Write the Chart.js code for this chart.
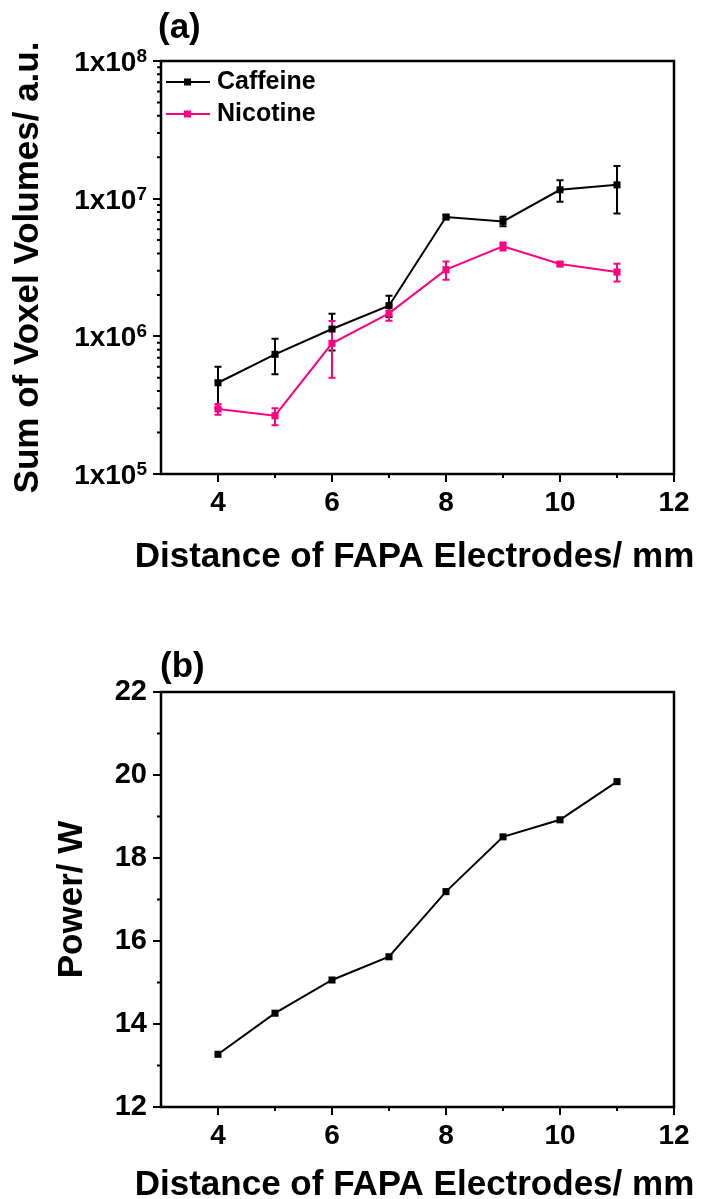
<!DOCTYPE html>
<html>
<head>
<meta charset="utf-8">
<script src="https://cdn.jsdelivr.net/npm/chart.js@4.4.1/dist/chart.umd.min.js"></script>
<style>
  html, body { margin: 0; padding: 0; background: #fff; overflow: hidden; }
  canvas { position: absolute; left: 0; }
  #volChart { top: 0; }
  #powerChart { top: 600px; }
</style>
</head>
<body>
<canvas id="volChart" width="704" height="600"></canvas>
<canvas id="powerChart" width="704" height="599"></canvas>
<script>
// values
const distances   = [4, 5, 6, 7, 8, 9, 10, 11];
const caffeine    = [4.6e5, 7.4e5, 1.13e6, 1.67e6, 7.36e6, 6.84e6, 1.16e7, 1.26e7];
const caffeineLo  = [3.0e5, 5.3e5, 7.9e5, 1.38e6, 7.1e6, 6.3e6, 9.5e6, 7.8e6];
const caffeineHi  = [6.0e5, 9.6e5, 1.46e6, 1.97e6, 7.6e6, 7.4e6, 1.36e7, 1.73e7];
const nicotine    = [2.97e5, 2.65e5, 8.9e5, 1.47e6, 3.05e6, 4.5e6, 3.35e6, 2.93e6];
const nicotineLo  = [2.69e5, 2.26e5, 5.0e5, 1.30e6, 2.58e6, 4.21e6, 3.25e6, 2.5e6];
const nicotineHi  = [3.23e5, 3.0e5, 1.29e6, 1.67e6, 3.5e6, 4.81e6, 3.45e6, 3.37e6];
const power       = [13.27, 14.26, 15.06, 15.62, 17.19, 18.51, 18.92, 19.84];

const xTicks      = [4, 6, 8, 10, 12];
const xMinor      = [5, 7, 9, 11];
const volumeTicks = [1e5, 1e6, 1e7, 1e8];
const powerTicks  = [12, 14, 16, 18, 20, 22];
const powerMinor  = [13, 15, 17, 19, 21];

const xTitle = 'Distance of FAPA Electrodes/ mm';

const FONT = '"Liberation Sans", Arial, sans-serif';
const PINK = '#FF0080';

Chart.defaults.font.family = FONT;
Chart.defaults.font.weight = 'bold';
Chart.defaults.color = '#000';
Chart.defaults.animation = false;

const pts = ys => distances.map((x, i) => ({x, y: ys[i]}));
const setTicks = list => s => { s.ticks = list.map(v => ({value: v})); };
const fixWidth = w => s => { s.width = w; s.paddingTop = 0; s.paddingBottom = 0; };
const fixHeight = h => s => { s.height = h; s.paddingLeft = 0; s.paddingRight = 0; };

// minor decade ticks 2..9 x 10^n
const volumeMinor = [];
volumeTicks.slice(0, -1).forEach(d => { for (let k = 2; k <= 9; k++) volumeMinor.push(k * d); });

// --- error bars, frame box, minor ticks, panel letter, x title
const frame = {
  id: 'frame',
  beforeDatasetsDraw(chart) {
    const {ctx, scales: {x, y}} = chart;
    chart.data.datasets.forEach(ds => {
      if (!ds.errLo) return;
      ctx.save();
      ctx.strokeStyle = ds.borderColor;
      ctx.lineWidth = 2;
      ctx.beginPath();
      ds.data.forEach((p, i) => {
        const px = x.getPixelForValue(p.x);
        const top = y.getPixelForValue(ds.errHi[i]);
        const bot = y.getPixelForValue(ds.errLo[i]);
        ctx.moveTo(px, top); ctx.lineTo(px, bot);
        ctx.moveTo(px - 3.5, top); ctx.lineTo(px + 3.5, top);
        ctx.moveTo(px - 3.5, bot); ctx.lineTo(px + 3.5, bot);
      });
      ctx.stroke();
      ctx.restore();
    });
  },
  afterDraw(chart, args, o) {
    const {ctx, chartArea: a, scales: {x, y}} = chart;
    ctx.save();
    ctx.strokeStyle = '#000';
    ctx.lineWidth = 2;
    ctx.beginPath();
    o.xMinor.forEach(v => { const px = x.getPixelForValue(v); ctx.moveTo(px, a.bottom); ctx.lineTo(px, a.bottom + 4); });
    o.yMinor.forEach(v => { const py = y.getPixelForValue(v); ctx.moveTo(a.left, py); ctx.lineTo(a.left - 4, py); });
    ctx.stroke();
    ctx.lineWidth = 2.5;
    ctx.strokeRect(a.left, a.top, a.right - a.left, a.bottom - a.top);
    ctx.fillStyle = '#000';
    ctx.font = 'bold 35px ' + FONT;
    ctx.textBaseline = 'alphabetic';
    ctx.fillText(o.label, o.labelX, o.labelY);
    // x title (drawn here so it is not squeezed to the axis width)
    ctx.textAlign = 'center';
    ctx.textBaseline = 'middle';
    ctx.fillText(o.title, (a.left + a.right) / 2 - 3, o.titleY);
    ctx.restore();
  }
};

// 1x10^n labels with a real superscript
const decadeLabels = {
  id: 'decadeLabels',
  afterDraw(chart) {
    const {ctx, scales: {y}} = chart;
    const right = y.right - 8 - 6;
    ctx.save();
    ctx.fillStyle = '#000';
    ctx.textAlign = 'right';
    ctx.textBaseline = 'alphabetic';
    volumeTicks.forEach(v => {
      const py = y.getPixelForValue(v);
      const e = String(Math.round(Math.log10(v)));
      ctx.font = 'bold 19px ' + FONT;
      const ew = ctx.measureText(e).width;
      ctx.fillText(e, right, py + 1);
      ctx.font = 'bold 28px ' + FONT;
      ctx.fillText('1x10', right - ew, py + 10);
    });
    ctx.restore();
  }
};

// legend: line + square marker + name
const seriesKey = {
  id: 'seriesKey',
  afterDraw(chart, args, o) {
    const {ctx} = chart;
    ctx.save();
    chart.data.datasets.forEach((ds, i) => {
      const yy = o.y + i * o.gap;
      ctx.strokeStyle = ds.borderColor;
      ctx.lineWidth = 2;
      ctx.beginPath(); ctx.moveTo(o.x, yy); ctx.lineTo(o.x + 44, yy); ctx.stroke();
      ctx.fillStyle = ds.borderColor;
      ctx.fillRect(o.x + 18, yy - 3.5, 7, 7);
      ctx.fillStyle = '#000';
      ctx.font = 'bold 25px ' + FONT;
      ctx.textBaseline = 'middle';
      ctx.fillText(ds.label, o.x + 51, yy);
    });
    ctx.restore();
  }
};

const tickGrid = {display: true, drawOnChartArea: false, drawTicks: true, tickLength: 8, lineWidth: 2, color: '#000'};

// --- Chart (a): voxel volumes, log scale
new Chart(document.getElementById('volChart'), {
  type: 'line',
  data: {
    datasets: [
      {label: 'Caffeine', data: pts(caffeine), errLo: caffeineLo, errHi: caffeineHi,
       borderColor: '#000', backgroundColor: '#000', borderWidth: 2,
       pointStyle: 'rect', pointRadius: 5, pointBorderWidth: 0, tension: 0},
      {label: 'Nicotine', data: pts(nicotine), errLo: nicotineLo, errHi: nicotineHi,
       borderColor: PINK, backgroundColor: PINK, borderWidth: 2,
       pointStyle: 'rect', pointRadius: 5, pointBorderWidth: 0, tension: 0}
    ]
  },
  options: {
    responsive: false,
    events: [],
    layout: {padding: {top: 61, right: 30, left: 0, bottom: 0}},
    plugins: {
      legend: {display: false}, tooltip: {enabled: false},
      frame: {label: '(a)', labelX: 158, labelY: 38, xMinor, yMinor: volumeMinor, title: xTitle, titleY: 557},
      seriesKey: {x: 166, y: 82, gap: 32}
    },
    scales: {
      x: {type: 'linear', min: 3, max: 12, afterBuildTicks: setTicks(xTicks), afterFit: fixHeight(126),
          grid: tickGrid, border: {display: false},
          ticks: {font: {size: 28}, padding: 4}},
      y: {type: 'logarithmic', min: 1e5, max: 1e8, afterBuildTicks: setTicks(volumeTicks), afterFit: fixWidth(161),
          grid: tickGrid, border: {display: false},
          ticks: {display: false},
          title: {display: true, text: 'Sum of Voxel Volumes/ a.u.', font: {size: 35}, padding: {top: 7, bottom: 0}}}
    }
  },
  plugins: [frame, decadeLabels, seriesKey]
});

// --- Chart (b): discharge power
new Chart(document.getElementById('powerChart'), {
  type: 'line',
  data: {
    datasets: [
      {label: 'Power', data: pts(power),
       borderColor: '#000', backgroundColor: '#000', borderWidth: 2,
       pointStyle: 'rect', pointRadius: 5, pointBorderWidth: 0, tension: 0}
    ]
  },
  options: {
    responsive: false,
    events: [],
    layout: {padding: {top: 92, right: 30, left: 0, bottom: 0}},
    plugins: {
      legend: {display: false}, tooltip: {enabled: false},
      frame: {label: '(b)', labelX: 160, labelY: 77, xMinor, yMinor: powerMinor, title: xTitle, titleY: 585}
    },
    scales: {
      x: {type: 'linear', min: 3, max: 12, afterBuildTicks: setTicks(xTicks), afterFit: fixHeight(92),
          grid: tickGrid, border: {display: false},
          ticks: {font: {size: 28}, padding: 4}},
      y: {type: 'linear', min: 12, max: 22, afterBuildTicks: setTicks(powerTicks), afterFit: fixWidth(161),
          grid: tickGrid, border: {display: false},
          ticks: {font: {size: 29}, padding: 6},
          title: {display: true, text: 'Power/ W', font: {size: 35}, padding: {top: 51, bottom: 0}}}
    }
  },
  plugins: [frame]
});
</script>
</body>
</html>
